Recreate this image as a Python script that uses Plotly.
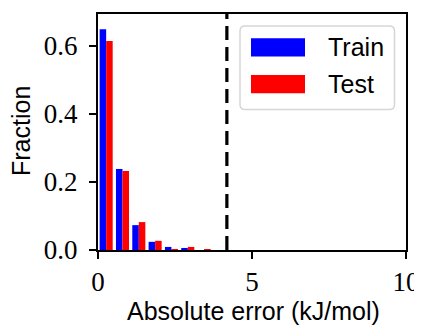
import plotly.graph_objects as go

bin_width = 0.53
bin_centers = [bin_width * (i + 0.5) for i in range(10)]
train_frac = [0.648, 0.238, 0.073, 0.024, 0.009, 0.006, 0.0, 0.0, 0.0, 0.0]
test_frac = [0.614, 0.232, 0.082, 0.027, 0.0015, 0.009, 0.0015, 0.0, 0.0, 0.0]
threshold = 4.184  # 1 kcal/mol
x_ticks = [0, 5, 10]
y_ticks = [0.0, 0.2, 0.4, 0.6]
y_tick_text = ["0.0", "0.2", "0.4", "0.6"]

# The page body has an 8px default margin, so the figure is made 8px smaller
# and its margins are shifted so the plot lands at the reference's pixels.
PAGE_OFF = 8
W, H = 422 - PAGE_OFF, 327 - PAGE_OFF
L, R, T, B = 98 - PAGE_OFF, 16, 14 - PAGE_OFF, 77
pw, ph = W - L - R, H - T - B   # 308 x 236 plot area

SERIF = "Liberation Serif, DejaVu Serif, serif"
SANS = "Liberation Sans, Arial, sans-serif"


def px(x):
    """reference-pixel x -> paper coordinate"""
    return (x - 98) / pw


def py(y):
    """reference-pixel y -> paper coordinate"""
    return (250 - y) / ph


fig = go.Figure()
fig.add_trace(go.Bar(x=bin_centers, y=train_frac, name="Train", marker_color="#0000ff",
                     marker_line_width=0, showlegend=False))
fig.add_trace(go.Bar(x=bin_centers, y=test_frac, name="Test", marker_color="#ff0000",
                     marker_line_width=0, showlegend=False))

fig.add_shape(type="line", x0=threshold, x1=threshold, y0=0, y1=1, xref="x", yref="paper",
              line=dict(color="black", width=3.2, dash="14px,7px"))

# legend box (manual, matplotlib style)
x0, x1, y0, y1 = px(240), px(394.5), py(26), py(109.5)
rx, ry = 5 / pw, 5 / ph
path = (f"M{x0+rx},{y0} L{x1-rx},{y0} Q{x1},{y0} {x1},{y0-ry} L{x1},{y1+ry} Q{x1},{y1} {x1-rx},{y1} "
        f"L{x0+rx},{y1} Q{x0},{y1} {x0},{y1+ry} L{x0},{y0-ry} Q{x0},{y0} {x0+rx},{y0} Z")
fig.add_shape(type="path", path=path, xref="paper", yref="paper",
              fillcolor="rgba(255,255,255,0.8)", line=dict(color="#d6d6d6", width=1.5))
for (name, color, top, mid) in [("Train", "#0000ff", 38.3, 47.3), ("Test", "#ff0000", 75, 84.3)]:
    fig.add_shape(type="rect", xref="paper", yref="paper", x0=px(251), x1=px(305),
                  y0=py(top), y1=py(top + 18.3), fillcolor=color, line_width=0)
    fig.add_annotation(x=px(326), y=py(mid), xref="paper", yref="paper", text=name,
                       showarrow=False, xanchor="left", yanchor="middle",
                       font=dict(family=SANS, size=25, color="black"))

# axis titles
fig.add_annotation(x=px(253), y=py(311), xref="paper", yref="paper", text="Absolute error (kJ/mol)",
                   showarrow=False, xanchor="center", yanchor="middle",
                   font=dict(family=SANS, size=25, color="black"))
fig.add_annotation(x=px(20.5), y=py(131.5), xref="paper", yref="paper", text="Fraction",
                   textangle=-90, showarrow=False, xanchor="center", yanchor="middle",
                   font=dict(family=SANS, size=25, color="black"))

axis_common = dict(showgrid=False, zeroline=False, showline=True, linecolor="black", linewidth=2,
                   mirror=True, ticks="outside", ticklen=7, tickwidth=1.6, tickcolor="black",
                   automargin=False, tickfont=dict(family=SERIF, size=27, color="black"))

fig.update_layout(
    width=W, height=H,
    margin=dict(l=L, r=R, t=T, b=B),
    paper_bgcolor="white", plot_bgcolor="white",
    barmode="group", bargap=0.2, bargroupgap=0,
    showlegend=False,
    xaxis=dict(range=[0, 10], tickvals=x_ticks, ticktext=[str(v) for v in x_ticks],
               ticklabelstandoff=0, **axis_common),
    yaxis=dict(range=[0, 0.693], tickvals=y_ticks, ticktext=y_tick_text,
               ticklabelstandoff=6, **axis_common),
)

fig.write_html("out.html")
